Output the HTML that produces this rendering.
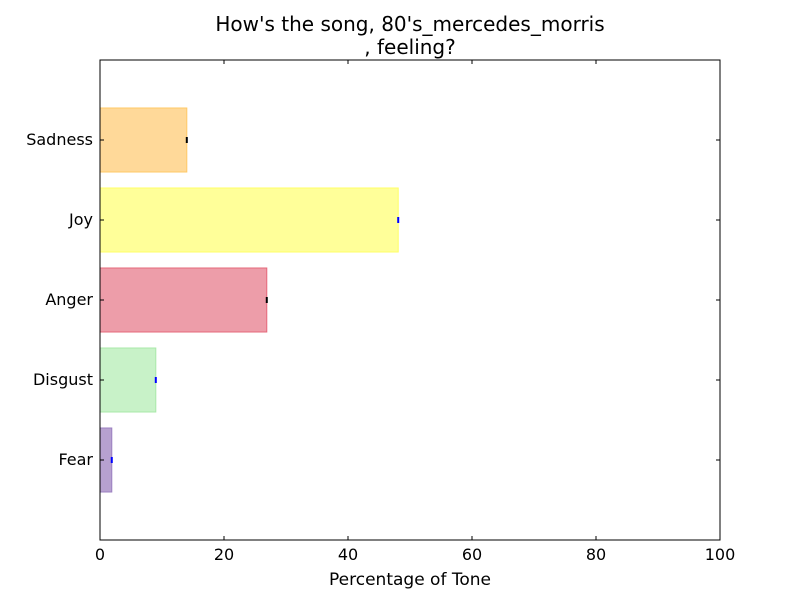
<!DOCTYPE html>
<html><head><meta charset="utf-8"><style>body{margin:0;background:#fff}svg{display:block;font-family:"DejaVu Sans","Liberation Sans",sans-serif}</style></head>
<body>
<svg id="chart" width="800" height="600" viewBox="0 0 800 600">
<rect x="0" y="0" width="800" height="600" fill="#fff"/>
<text x="410" y="31" font-size="20" text-anchor="middle">How's the song, 80's_mercedes_morris</text>
<text x="410" y="54" font-size="20" text-anchor="middle">, feeling?</text>
<g id="bars"></g>
<g id="axes"></g>
<text x="410" y="585" font-size="17" text-anchor="middle">Percentage of Tone</text>
</svg>
<script>
const categories = ["Fear","Disgust","Anger","Joy","Sadness"];
const values = [1.9, 9.0, 26.9, 48.1, 14.0];
const fills = ["#b7a1d0","#c8f2c8","#ed9da9","#ffff99","#ffd999"];
const edges = ["#9b7fc0","#a8e8a8","#e5687a","#ffff66","#ffc966"];
const errColors = ["#0000ff","#0000ff","#000000","#0000ff","#000000"];
const xTicks = [0,20,40,60,80,100];

const L=100,R=720,T=60,B=540;
const xs=v=>L+(v-0)/(100-0)*(R-L);
const ys=i=>B-(i+1)/6*(B-T);
const NS="http://www.w3.org/2000/svg";
const bars=document.getElementById('bars'), axes=document.getElementById('axes');
function mk(tag,attrs,parent){const e=document.createElementNS(NS,tag);for(const k in attrs)e.setAttribute(k,attrs[k]);parent.appendChild(e);return e;}
categories.forEach((c,i)=>{
  const h=0.8/6*(B-T);
  const r=mk('rect',{x:xs(0),y:ys(i)-h/2,width:xs(values[i])-xs(0),height:h,fill:fills[i],stroke:edges[i],'stroke-width':1},bars);
  
  
  const e=mk('line',{x1:xs(values[i]),x2:xs(values[i]),y1:ys(i)-3,y2:ys(i)+3,stroke:errColors[i],'stroke-width':2},bars);
  
  
  mk('line',{x1:L,x2:L+4,y1:ys(i),y2:ys(i),stroke:'#000'},axes);
  mk('line',{x1:R,x2:R-4,y1:ys(i),y2:ys(i),stroke:'#000'},axes);
  const t=mk('text',{x:L-7,y:ys(i)+5,'font-size':16,'text-anchor':'end'},axes);
  t.textContent=c;
  
  
});
xTicks.forEach(v=>{
  mk('line',{x1:xs(v),x2:xs(v),y1:B,y2:B-4,stroke:'#000'},axes);
  mk('line',{x1:xs(v),x2:xs(v),y1:T,y2:T+4,stroke:'#000'},axes);
  const t=mk('text',{x:xs(v),y:B+20,'font-size':16,'text-anchor':'middle'},axes);
  t.textContent=v;
  
  
});
const f=mk('rect',{x:L,y:T,width:R-L,height:B-T,fill:'none',stroke:'#000','stroke-width':1},axes);


</script>
</body></html>
